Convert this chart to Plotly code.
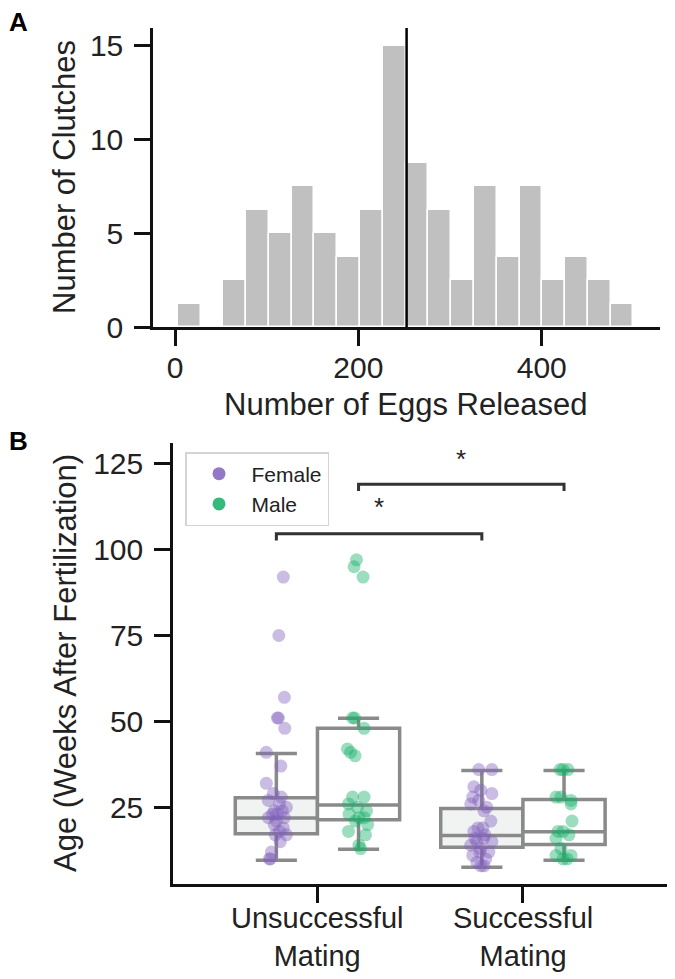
import plotly.graph_objects as go

# ---- panel A: histogram of eggs released ----
bin_start = 3
bin_width = 24.85
clutch_counts = [1.25, 0, 2.5, 6.25, 5, 7.5, 5, 3.75, 6.25, 15,
                 8.75, 6.25, 2.5, 7.5, 3.75, 7.5, 2.5, 3.75, 2.5, 1.25]
median_eggs = 252.6

# ---- panel B: age by mating outcome ----
categories = ["Unsuccessful Mating", "Successful Mating"]
cat_labels = ["Unsuccessful<br>Mating", "Successful<br>Mating"]

# box stats (q1, median, q3, lower whisker, upper whisker)
female_q1 = [17.3, 13.4]
female_med = [21.9, 16.8]
female_q3 = [27.8, 24.7]
female_lo = [9.6, 7.6]
female_hi = [40.7, 35.7]
male_q1 = [21.4, 14.2]
male_med = [25.7, 17.9]
male_q3 = [48.0, 27.3]
male_lo = [12.8, 9.6]
male_hi = [50.9, 35.7]

# individual fish (age, jitter)
uf_age = [92, 75, 57, 51, 51, 48, 41, 37, 32, 29, 28, 27, 26, 25, 24, 24, 23, 23, 22, 22,
          21, 20, 19, 18, 17, 17, 15, 12, 10, 10]
uf_jit = [0.034, 0.012, 0.039, 0.005, 0.010, 0.041, -0.049, 0.022, -0.049, -0.015, 0.024,
          -0.039, 0.015, 0.049, -0.010, 0.029, -0.019, 0.005, -0.039, 0.039, 0.0, -0.010,
          0.034, 0.015, -0.005, 0.049, 0.019, -0.024, -0.034, -0.029]
um_age = [97, 95, 92, 51, 51, 48, 42, 41, 40, 28, 28, 26, 25, 24, 23, 22, 22, 21, 20, 18,
          17, 14, 13]
um_jit = [-0.010, -0.022, 0.022, -0.029, -0.019, 0.027, -0.054, -0.039, -0.017, -0.029,
          0.027, -0.049, -0.005, 0.039, -0.046, 0.002, 0.027, -0.015, 0.044, -0.049, 0.034,
          0.002, 0.010]
sf_age = [36, 36, 31, 30, 29, 28, 27, 26, 25, 24, 21, 19, 19, 18, 17, 16, 16, 15, 15, 14,
          13, 12, 12, 11, 10, 9, 8, 8]
sf_jit = [-0.015, 0.049, -0.039, -0.005, 0.049, -0.044, -0.015, -0.054, 0.024, 0.010, 0.044,
          -0.019, 0.005, -0.039, 0.015, -0.034, 0.010, 0.049, -0.024, -0.054, -0.005, 0.034,
          -0.010, -0.044, 0.019, -0.024, -0.005, 0.010]
sm_age = [36, 36, 36, 28, 28, 27, 26, 21, 18, 18, 17, 16, 13, 11, 11, 10, 10]
sm_jit = [-0.019, 0.019, -0.005, -0.039, -0.015, 0.034, 0.034, 0.039, -0.029, -0.005, 0.024,
          -0.039, -0.015, -0.039, 0.034, -0.005, 0.015]

FEMALE = "rgb(129,95,189)"
MALE = "rgb(18,174,102)"
GRAY = "#8a8a8a"
FONT = "Liberation Sans, Arial, sans-serif"
OFF = 8  # page body margin
W, H = 675 - OFF, 979 - OFF


def px(x):
    return (x - OFF) / W


def py(y):
    return 1 - (y - OFF) / H


fig = go.Figure()

# histogram bars
centers = [bin_start + bin_width * (i + 0.5) for i in range(len(clutch_counts))]
fig.add_trace(go.Bar(x=centers, y=clutch_counts, width=bin_width,
                     marker=dict(color="#c0c0c0", line=dict(color="white", width=1.5)),
                     showlegend=False, xaxis="x", yaxis="y"))

# boxes
fdodge, mdodge = -0.2, 0.2
for i in range(2):
    fig.add_trace(go.Box(x=[i + fdodge], q1=[female_q1[i]], median=[female_med[i]],
                         q3=[female_q3[i]], lowerfence=[female_lo[i]],
                         upperfence=[female_hi[i]], width=0.4, whiskerwidth=0.5,
                         fillcolor="#f1f3f3", line=dict(color=GRAY, width=3.5),
                         boxpoints=False, showlegend=False, xaxis="x2", yaxis="y2"))
    fig.add_trace(go.Box(x=[i + mdodge], q1=[male_q1[i]], median=[male_med[i]],
                         q3=[male_q3[i]], lowerfence=[male_lo[i]],
                         upperfence=[male_hi[i]], width=0.4, whiskerwidth=0.5,
                         fillcolor="white", line=dict(color=GRAY, width=3.5),
                         boxpoints=False, showlegend=False, xaxis="x2", yaxis="y2"))

# strip points
groups = [(uf_age, uf_jit, 0 + fdodge, FEMALE), (um_age, um_jit, 0 + mdodge, MALE),
          (sf_age, sf_jit, 1 + fdodge, FEMALE), (sm_age, sm_jit, 1 + mdodge, MALE)]
for ages, jit, pos, col in groups:
    fig.add_trace(go.Scatter(x=[pos + j for j in jit], y=ages, mode="markers",
                             marker=dict(color=col, size=13, opacity=0.42),
                             showlegend=False, xaxis="x2", yaxis="y2"))

# legend entries
for name, col in [("Female", FEMALE), ("Male", MALE)]:
    fig.add_trace(go.Scatter(x=[None], y=[None], mode="markers", name=name,
                             marker=dict(color=col, size=13, opacity=0.85),
                             xaxis="x2", yaxis="y2"))

# median line in panel A
fig.add_shape(type="line", xref="x", yref="y domain", x0=median_eggs, x1=median_eggs,
              y0=0, y1=1, line=dict(color="black", width=2.5))

# significance brackets
for x0, x1, yb, ys in [(0 + fdodge, 1 + fdodge, 104.6, 112.5),
                       (0 + mdodge, 1 + mdodge, 119.0, 126.4)]:
    fig.add_shape(type="path", xref="x2", yref="y2",
                  path=f"M {x0},{yb - 2} L {x0},{yb} L {x1},{yb} L {x1},{yb - 2}",
                  line=dict(color="#333333", width=3))
    fig.add_annotation(x=(x0 + x1) / 2, y=ys, xref="x2", yref="y2", text="*",
                       showarrow=False, font=dict(size=26, color="#222"))

tick_style = dict(ticks="outside", ticklen=16, tickwidth=2.5, tickcolor="#111",
                  showline=True, linewidth=2.5, linecolor="#111", showgrid=False,
                  zeroline=False, automargin=False,
                  tickfont=dict(family=FONT, size=30, color="#222"))

fig.update_layout(
    width=W, height=H,
    margin=dict(l=0, r=0, t=0, b=0),
    plot_bgcolor="white", paper_bgcolor="white",
    bargap=0,
    font=dict(family=FONT, color="#222"),
    xaxis=dict(domain=[px(153), px(660)], range=[-24, 529], tickvals=[0, 200, 400],
               anchor="y", ticklabelstandoff=-4, **tick_style),
    yaxis=dict(domain=[py(327), py(28)], range=[0, 15.96], tickvals=[0, 5, 10, 15],
               anchor="x", ticklabelstandoff=5, **tick_style),
    xaxis2=dict(domain=[px(173), px(668)], range=[-0.703, 1.706], tickvals=[0, 1],
                ticktext=["", ""], anchor="y2", **tick_style),
    yaxis2=dict(domain=[py(884), py(443)], range=[2.7, 131], tickvals=[25, 50, 75, 100, 125],
                anchor="x2", ticklabelstandoff=5, **tick_style),
    legend=dict(x=px(185), y=py(452), xanchor="left", yanchor="top", itemwidth=55,
                bgcolor="white", bordercolor="#d4d4d4", borderwidth=1.5,
                font=dict(family=FONT, size=21, color="#222")),
)


def label(x, y, text, size=31, angle=0, xref="paper", color="#222"):
    fig.add_annotation(x=x, y=y, xref=xref, yref="paper", text=text, textangle=angle,
                       xanchor="center", yanchor="middle", showarrow=False,
                       font=dict(family=FONT, size=size, color=color))


# axis titles and panel labels
label(px(65), py(177), "Number of Clutches", angle=-90)
label(px(406), py(404), "Number of Eggs Released")
label(px(65), py(663), "Age (Weeks After Fertilization)", angle=-90)
label(px(18), py(22), "<b>A</b>", size=26, color="black")
label(px(18), py(441), "<b>B</b>", size=26, color="black")

# category labels
for i, text in enumerate(cat_labels):
    label(i, py(937), text, size=29, xref="x2")

fig.write_html("out.html")
